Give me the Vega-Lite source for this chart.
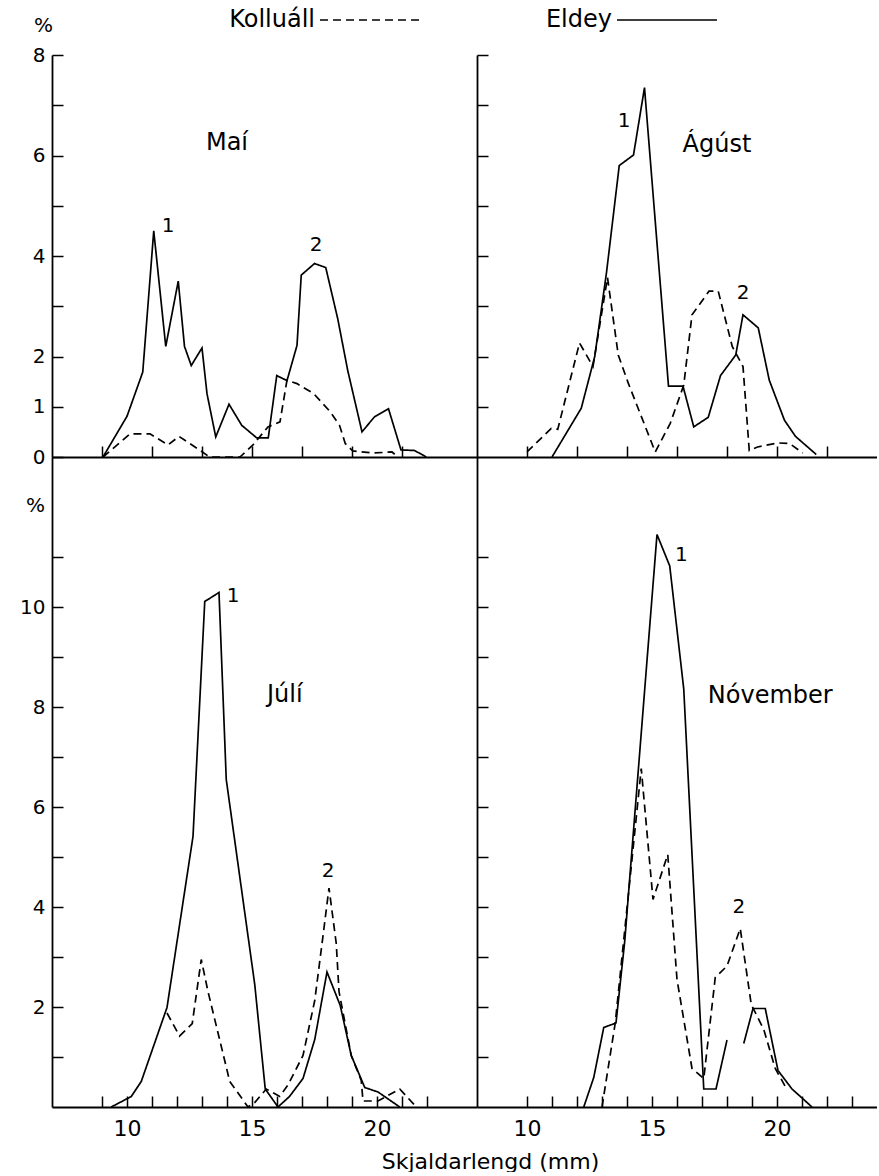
{
  "$schema": "https://vega.github.io/schema/vega-lite/v6.json",
  "background": "white",
  "padding": {"left": 19, "top": 8, "right": 0, "bottom": 0},
  "autosize": {"type": "pad"},
  "config": {
    "font": "DejaVu Sans",
    "view": {"stroke": null},
    "axis": {
      "grid": false,
      "domainColor": "black",
      "domainWidth": 1.8,
      "tickColor": "black",
      "tickWidth": 1.5,
      "tickSize": -11,
      "labelColor": "black",
      "labelFont": "DejaVu Sans",
      "labelFontSize": 20,
      "labelOverlap": false,
      "labelFlush": false,
      "titleColor": "black",
      "titleFont": "DejaVu Sans",
      "titleFontWeight": "normal",
      "titleFontSize": 20
    },
    "legend": {
      "orient": "none",
      "direction": "horizontal",
      "title": null,
      "symbolType": "M-5,0H5",
      "symbolSize": 400,
      "symbolStrokeWidth": 1.7,
      "symbolStrokeColor": "black",
      "labelFont": "DejaVu Sans",
      "labelFontSize": 24,
      "labelColor": "black",
      "labelAlign": "right",
      "labelOffset": -67,
      "labelLimit": 0,
      "columnPadding": 121
    }
  },
  "datasets": {
    "curves": [
      {"panel": "Maí", "site": "Eldey", "seg": "a", "mm": 9.04, "pct": 0},
      {"panel": "Maí", "site": "Eldey", "seg": "a", "mm": 10.0, "pct": 0.81},
      {"panel": "Maí", "site": "Eldey", "seg": "a", "mm": 10.63, "pct": 1.69},
      {"panel": "Maí", "site": "Eldey", "seg": "a", "mm": 11.07, "pct": 4.5},
      {"panel": "Maí", "site": "Eldey", "seg": "a", "mm": 11.55, "pct": 2.2},
      {"panel": "Maí", "site": "Eldey", "seg": "a", "mm": 12.05, "pct": 3.5},
      {"panel": "Maí", "site": "Eldey", "seg": "a", "mm": 12.3, "pct": 2.2},
      {"panel": "Maí", "site": "Eldey", "seg": "a", "mm": 12.57, "pct": 1.82},
      {"panel": "Maí", "site": "Eldey", "seg": "a", "mm": 13.0, "pct": 2.17},
      {"panel": "Maí", "site": "Eldey", "seg": "a", "mm": 13.2, "pct": 1.26},
      {"panel": "Maí", "site": "Eldey", "seg": "a", "mm": 13.55, "pct": 0.4},
      {"panel": "Maí", "site": "Eldey", "seg": "a", "mm": 14.08, "pct": 1.05},
      {"panel": "Maí", "site": "Eldey", "seg": "a", "mm": 14.59, "pct": 0.63},
      {"panel": "Maí", "site": "Eldey", "seg": "a", "mm": 15.19, "pct": 0.38},
      {"panel": "Maí", "site": "Eldey", "seg": "a", "mm": 15.65, "pct": 0.38},
      {"panel": "Maí", "site": "Eldey", "seg": "a", "mm": 15.99, "pct": 1.62},
      {"panel": "Maí", "site": "Eldey", "seg": "a", "mm": 16.4, "pct": 1.52},
      {"panel": "Maí", "site": "Eldey", "seg": "a", "mm": 16.8, "pct": 2.22},
      {"panel": "Maí", "site": "Eldey", "seg": "a", "mm": 16.97, "pct": 3.62},
      {"panel": "Maí", "site": "Eldey", "seg": "a", "mm": 17.5, "pct": 3.85},
      {"panel": "Maí", "site": "Eldey", "seg": "a", "mm": 17.95, "pct": 3.77},
      {"panel": "Maí", "site": "Eldey", "seg": "a", "mm": 18.43, "pct": 2.75},
      {"panel": "Maí", "site": "Eldey", "seg": "a", "mm": 18.83, "pct": 1.72},
      {"panel": "Maí", "site": "Eldey", "seg": "a", "mm": 19.4, "pct": 0.5},
      {"panel": "Maí", "site": "Eldey", "seg": "a", "mm": 19.9, "pct": 0.8},
      {"panel": "Maí", "site": "Eldey", "seg": "a", "mm": 20.46, "pct": 0.96},
      {"panel": "Maí", "site": "Eldey", "seg": "a", "mm": 20.96, "pct": 0.14},
      {"panel": "Maí", "site": "Eldey", "seg": "a", "mm": 21.5, "pct": 0.13},
      {"panel": "Maí", "site": "Eldey", "seg": "a", "mm": 21.97, "pct": 0},

      {"panel": "Maí", "site": "Kolluáll", "seg": "a", "mm": 9.04, "pct": 0},
      {"panel": "Maí", "site": "Kolluáll", "seg": "a", "mm": 10.12, "pct": 0.46},
      {"panel": "Maí", "site": "Kolluáll", "seg": "a", "mm": 10.92, "pct": 0.46},
      {"panel": "Maí", "site": "Kolluáll", "seg": "a", "mm": 11.64, "pct": 0.24},
      {"panel": "Maí", "site": "Kolluáll", "seg": "a", "mm": 12.08, "pct": 0.41},
      {"panel": "Maí", "site": "Kolluáll", "seg": "a", "mm": 12.99, "pct": 0.11},
      {"panel": "Maí", "site": "Kolluáll", "seg": "a", "mm": 13.3, "pct": 0},
      {"panel": "Maí", "site": "Kolluáll", "seg": "a", "mm": 14.52, "pct": 0},
      {"panel": "Maí", "site": "Kolluáll", "seg": "a", "mm": 15.04, "pct": 0.24},
      {"panel": "Maí", "site": "Kolluáll", "seg": "a", "mm": 15.64, "pct": 0.6},
      {"panel": "Maí", "site": "Kolluáll", "seg": "a", "mm": 16.12, "pct": 0.7},
      {"panel": "Maí", "site": "Kolluáll", "seg": "a", "mm": 16.4, "pct": 1.53},
      {"panel": "Maí", "site": "Kolluáll", "seg": "a", "mm": 16.8, "pct": 1.46},
      {"panel": "Maí", "site": "Kolluáll", "seg": "a", "mm": 17.47, "pct": 1.26},
      {"panel": "Maí", "site": "Kolluáll", "seg": "a", "mm": 18.13, "pct": 0.9},
      {"panel": "Maí", "site": "Kolluáll", "seg": "a", "mm": 18.5, "pct": 0.63},
      {"panel": "Maí", "site": "Kolluáll", "seg": "a", "mm": 18.73, "pct": 0.27},
      {"panel": "Maí", "site": "Kolluáll", "seg": "a", "mm": 19.03, "pct": 0.12},
      {"panel": "Maí", "site": "Kolluáll", "seg": "a", "mm": 19.84, "pct": 0.08},
      {"panel": "Maí", "site": "Kolluáll", "seg": "a", "mm": 20.6, "pct": 0.1},
      {"panel": "Maí", "site": "Kolluáll", "seg": "a", "mm": 20.84, "pct": 0},

      {"panel": "Ágúst", "site": "Eldey", "seg": "a", "mm": 11.0, "pct": 0},
      {"panel": "Ágúst", "site": "Eldey", "seg": "a", "mm": 12.17, "pct": 0.97},
      {"panel": "Ágúst", "site": "Eldey", "seg": "a", "mm": 12.71, "pct": 2.0},
      {"panel": "Ágúst", "site": "Eldey", "seg": "a", "mm": 13.18, "pct": 3.67},
      {"panel": "Ágúst", "site": "Eldey", "seg": "a", "mm": 13.69, "pct": 5.8},
      {"panel": "Ágúst", "site": "Eldey", "seg": "a", "mm": 14.26, "pct": 6.01},
      {"panel": "Ágúst", "site": "Eldey", "seg": "a", "mm": 14.7, "pct": 7.35},
      {"panel": "Ágúst", "site": "Eldey", "seg": "a", "mm": 15.66, "pct": 1.41},
      {"panel": "Ágúst", "site": "Eldey", "seg": "a", "mm": 16.24, "pct": 1.41},
      {"panel": "Ágúst", "site": "Eldey", "seg": "a", "mm": 16.67, "pct": 0.6},
      {"panel": "Ágúst", "site": "Eldey", "seg": "a", "mm": 17.25, "pct": 0.79},
      {"panel": "Ágúst", "site": "Eldey", "seg": "a", "mm": 17.74, "pct": 1.62},
      {"panel": "Ágúst", "site": "Eldey", "seg": "a", "mm": 18.35, "pct": 2.03},
      {"panel": "Ágúst", "site": "Eldey", "seg": "a", "mm": 18.64, "pct": 2.83},
      {"panel": "Ágúst", "site": "Eldey", "seg": "a", "mm": 19.25, "pct": 2.57},
      {"panel": "Ágúst", "site": "Eldey", "seg": "a", "mm": 19.69, "pct": 1.53},
      {"panel": "Ágúst", "site": "Eldey", "seg": "a", "mm": 20.3, "pct": 0.73},
      {"panel": "Ágúst", "site": "Eldey", "seg": "a", "mm": 20.74, "pct": 0.41},
      {"panel": "Ágúst", "site": "Eldey", "seg": "a", "mm": 21.57, "pct": 0.05},

      {"panel": "Ágúst", "site": "Kolluáll", "seg": "a", "mm": 10.0, "pct": 0.1},
      {"panel": "Ágúst", "site": "Kolluáll", "seg": "a", "mm": 10.97, "pct": 0.57},
      {"panel": "Ágúst", "site": "Kolluáll", "seg": "a", "mm": 11.23, "pct": 0.55},
      {"panel": "Ágúst", "site": "Kolluáll", "seg": "a", "mm": 12.1, "pct": 2.27},
      {"panel": "Ágúst", "site": "Kolluáll", "seg": "a", "mm": 12.64, "pct": 1.8},
      {"panel": "Ágúst", "site": "Kolluáll", "seg": "a", "mm": 13.22, "pct": 3.57},
      {"panel": "Ágúst", "site": "Kolluáll", "seg": "a", "mm": 13.65, "pct": 2.03},
      {"panel": "Ágúst", "site": "Kolluáll", "seg": "a", "mm": 14.05, "pct": 1.47},
      {"panel": "Ágúst", "site": "Kolluáll", "seg": "a", "mm": 15.13, "pct": 0.1},
      {"panel": "Ágúst", "site": "Kolluáll", "seg": "a", "mm": 15.73, "pct": 0.67},
      {"panel": "Ágúst", "site": "Kolluáll", "seg": "a", "mm": 16.27, "pct": 1.43},
      {"panel": "Ágúst", "site": "Kolluáll", "seg": "a", "mm": 16.6, "pct": 2.83},
      {"panel": "Ágúst", "site": "Kolluáll", "seg": "a", "mm": 17.28, "pct": 3.3},
      {"panel": "Ágúst", "site": "Kolluáll", "seg": "a", "mm": 17.65, "pct": 3.3},
      {"panel": "Ágúst", "site": "Kolluáll", "seg": "a", "mm": 18.21, "pct": 2.2},
      {"panel": "Ágúst", "site": "Kolluáll", "seg": "a", "mm": 18.64, "pct": 1.8},
      {"panel": "Ágúst", "site": "Kolluáll", "seg": "a", "mm": 18.89, "pct": 0.13},
      {"panel": "Ágúst", "site": "Kolluáll", "seg": "a", "mm": 19.22, "pct": 0.2},
      {"panel": "Ágúst", "site": "Kolluáll", "seg": "a", "mm": 20.03, "pct": 0.28},
      {"panel": "Ágúst", "site": "Kolluáll", "seg": "a", "mm": 20.5, "pct": 0.27},
      {"panel": "Ágúst", "site": "Kolluáll", "seg": "a", "mm": 21.03, "pct": 0.08},

      {"panel": "Júlí", "site": "Eldey", "seg": "a", "mm": 9.37, "pct": 0},
      {"panel": "Júlí", "site": "Eldey", "seg": "a", "mm": 10.17, "pct": 0.21},
      {"panel": "Júlí", "site": "Eldey", "seg": "a", "mm": 10.57, "pct": 0.51},
      {"panel": "Júlí", "site": "Eldey", "seg": "a", "mm": 11.6, "pct": 1.99},
      {"panel": "Júlí", "site": "Eldey", "seg": "a", "mm": 12.64, "pct": 5.41},
      {"panel": "Júlí", "site": "Eldey", "seg": "a", "mm": 13.11, "pct": 10.11},
      {"panel": "Júlí", "site": "Eldey", "seg": "a", "mm": 13.68, "pct": 10.29},
      {"panel": "Júlí", "site": "Eldey", "seg": "a", "mm": 13.97, "pct": 6.55},
      {"panel": "Júlí", "site": "Eldey", "seg": "a", "mm": 15.11, "pct": 2.45},
      {"panel": "Júlí", "site": "Eldey", "seg": "a", "mm": 15.53, "pct": 0.36},
      {"panel": "Júlí", "site": "Eldey", "seg": "a", "mm": 16.04, "pct": 0},
      {"panel": "Júlí", "site": "Eldey", "seg": "a", "mm": 16.5, "pct": 0.21},
      {"panel": "Júlí", "site": "Eldey", "seg": "a", "mm": 17.04, "pct": 0.57},
      {"panel": "Júlí", "site": "Eldey", "seg": "a", "mm": 17.51, "pct": 1.35},
      {"panel": "Júlí", "site": "Eldey", "seg": "a", "mm": 18.0, "pct": 2.7},
      {"panel": "Júlí", "site": "Eldey", "seg": "a", "mm": 18.53, "pct": 2.03},
      {"panel": "Júlí", "site": "Eldey", "seg": "a", "mm": 18.97, "pct": 1.03},
      {"panel": "Júlí", "site": "Eldey", "seg": "a", "mm": 19.51, "pct": 0.39},
      {"panel": "Júlí", "site": "Eldey", "seg": "a", "mm": 20.04, "pct": 0.3},
      {"panel": "Júlí", "site": "Eldey", "seg": "a", "mm": 20.91, "pct": 0},

      {"panel": "Júlí", "site": "Kolluáll", "seg": "a", "mm": 11.6, "pct": 1.88},
      {"panel": "Júlí", "site": "Kolluáll", "seg": "a", "mm": 12.1, "pct": 1.42},
      {"panel": "Júlí", "site": "Kolluáll", "seg": "a", "mm": 12.61, "pct": 1.67},
      {"panel": "Júlí", "site": "Kolluáll", "seg": "a", "mm": 12.97, "pct": 2.95},
      {"panel": "Júlí", "site": "Kolluáll", "seg": "a", "mm": 13.24, "pct": 2.31},
      {"panel": "Júlí", "site": "Kolluáll", "seg": "a", "mm": 14.11, "pct": 0.51},
      {"panel": "Júlí", "site": "Kolluáll", "seg": "a", "mm": 14.84, "pct": 0},
      {"panel": "Júlí", "site": "Kolluáll", "seg": "a", "mm": 15.11, "pct": 0.09},
      {"panel": "Júlí", "site": "Kolluáll", "seg": "a", "mm": 15.57, "pct": 0.36},
      {"panel": "Júlí", "site": "Kolluáll", "seg": "a", "mm": 16.11, "pct": 0.21},
      {"panel": "Júlí", "site": "Kolluáll", "seg": "a", "mm": 16.44, "pct": 0.44},
      {"panel": "Júlí", "site": "Kolluáll", "seg": "a", "mm": 17.04, "pct": 1.03},
      {"panel": "Júlí", "site": "Kolluáll", "seg": "a", "mm": 17.51, "pct": 2.13},
      {"panel": "Júlí", "site": "Kolluáll", "seg": "a", "mm": 17.87, "pct": 3.54},
      {"panel": "Júlí", "site": "Kolluáll", "seg": "a", "mm": 18.08, "pct": 4.38},
      {"panel": "Júlí", "site": "Kolluáll", "seg": "a", "mm": 18.37, "pct": 3.27},
      {"panel": "Júlí", "site": "Kolluáll", "seg": "a", "mm": 18.48, "pct": 2.31},
      {"panel": "Júlí", "site": "Kolluáll", "seg": "a", "mm": 18.97, "pct": 1.03},
      {"panel": "Júlí", "site": "Kolluáll", "seg": "a", "mm": 19.37, "pct": 0.53},
      {"panel": "Júlí", "site": "Kolluáll", "seg": "a", "mm": 19.44, "pct": 0.12},
      {"panel": "Júlí", "site": "Kolluáll", "seg": "a", "mm": 20.04, "pct": 0.12},
      {"panel": "Júlí", "site": "Kolluáll", "seg": "a", "mm": 20.91, "pct": 0.36},
      {"panel": "Júlí", "site": "Kolluáll", "seg": "a", "mm": 21.57, "pct": 0},

      {"panel": "Nóvember", "site": "Eldey", "seg": "a", "mm": 12.27, "pct": 0},
      {"panel": "Nóvember", "site": "Eldey", "seg": "a", "mm": 12.67, "pct": 0.59},
      {"panel": "Nóvember", "site": "Eldey", "seg": "a", "mm": 13.07, "pct": 1.59},
      {"panel": "Nóvember", "site": "Eldey", "seg": "a", "mm": 13.56, "pct": 1.68},
      {"panel": "Nóvember", "site": "Eldey", "seg": "a", "mm": 13.91, "pct": 3.32},
      {"panel": "Nóvember", "site": "Eldey", "seg": "a", "mm": 15.2, "pct": 11.45},
      {"panel": "Nóvember", "site": "Eldey", "seg": "a", "mm": 15.71, "pct": 10.82},
      {"panel": "Nóvember", "site": "Eldey", "seg": "a", "mm": 16.27, "pct": 8.36},
      {"panel": "Nóvember", "site": "Eldey", "seg": "a", "mm": 17.07, "pct": 0.36},
      {"panel": "Nóvember", "site": "Eldey", "seg": "a", "mm": 17.56, "pct": 0.36},
      {"panel": "Nóvember", "site": "Eldey", "seg": "a", "mm": 18.0, "pct": 1.34},
      {"panel": "Nóvember", "site": "Eldey", "seg": "b", "mm": 18.67, "pct": 1.27},
      {"panel": "Nóvember", "site": "Eldey", "seg": "b", "mm": 19.04, "pct": 1.97},
      {"panel": "Nóvember", "site": "Eldey", "seg": "b", "mm": 19.53, "pct": 1.97},
      {"panel": "Nóvember", "site": "Eldey", "seg": "b", "mm": 20.04, "pct": 0.73},
      {"panel": "Nóvember", "site": "Eldey", "seg": "b", "mm": 20.6, "pct": 0.36},
      {"panel": "Nóvember", "site": "Eldey", "seg": "b", "mm": 21.4, "pct": 0},

      {"panel": "Nóvember", "site": "Kolluáll", "seg": "a", "mm": 13.0, "pct": 0},
      {"panel": "Nóvember", "site": "Kolluáll", "seg": "a", "mm": 13.53, "pct": 1.68},
      {"panel": "Nóvember", "site": "Kolluáll", "seg": "a", "mm": 14.57, "pct": 6.77},
      {"panel": "Nóvember", "site": "Kolluáll", "seg": "a", "mm": 15.04, "pct": 4.15},
      {"panel": "Nóvember", "site": "Kolluáll", "seg": "a", "mm": 15.63, "pct": 5.05},
      {"panel": "Nóvember", "site": "Kolluáll", "seg": "a", "mm": 16.0, "pct": 2.55},
      {"panel": "Nóvember", "site": "Kolluáll", "seg": "a", "mm": 16.6, "pct": 0.77},
      {"panel": "Nóvember", "site": "Kolluáll", "seg": "a", "mm": 17.07, "pct": 0.57},
      {"panel": "Nóvember", "site": "Kolluáll", "seg": "a", "mm": 17.53, "pct": 2.59},
      {"panel": "Nóvember", "site": "Kolluáll", "seg": "a", "mm": 18.0, "pct": 2.82},
      {"panel": "Nóvember", "site": "Kolluáll", "seg": "a", "mm": 18.53, "pct": 3.57},
      {"panel": "Nóvember", "site": "Kolluáll", "seg": "a", "mm": 18.97, "pct": 2.05},
      {"panel": "Nóvember", "site": "Kolluáll", "seg": "a", "mm": 19.47, "pct": 1.55},
      {"panel": "Nóvember", "site": "Kolluáll", "seg": "a", "mm": 19.93, "pct": 0.77},
      {"panel": "Nóvember", "site": "Kolluáll", "seg": "a", "mm": 20.33, "pct": 0.41}
    ],
    "notes": [
      {"panel": "Maí", "kind": "title", "mm": 14.0, "pct": 6.25, "label": "Maí"},
      {"panel": "Maí", "kind": "peak", "mm": 11.64, "pct": 4.6, "label": "1"},
      {"panel": "Maí", "kind": "peak", "mm": 17.56, "pct": 4.22, "label": "2"},
      {"panel": "Ágúst", "kind": "title", "mm": 17.6, "pct": 6.2, "label": "Ágúst"},
      {"panel": "Ágúst", "kind": "peak", "mm": 13.88, "pct": 6.68, "label": "1"},
      {"panel": "Ágúst", "kind": "peak", "mm": 18.64, "pct": 3.27, "label": "2"},
      {"panel": "Júlí", "kind": "title", "mm": 16.31, "pct": 8.24, "label": "Júlí"},
      {"panel": "Júlí", "kind": "peak", "mm": 14.24, "pct": 10.22, "label": "1"},
      {"panel": "Júlí", "kind": "peak", "mm": 18.04, "pct": 4.73, "label": "2"},
      {"panel": "Nóvember", "kind": "title", "mm": 19.73, "pct": 8.23, "label": "Nóvember"},
      {"panel": "Nóvember", "kind": "peak", "mm": 16.17, "pct": 11.05, "label": "1"},
      {"panel": "Nóvember", "kind": "peak", "mm": 18.47, "pct": 4.0, "label": "2"}
    ]
  },
  "columns": 2,
  "spacing": 0,
  "bounds": "flush",
  "concat": [
    {
      "width": 425,
      "height": 402,
      "layer": [
        {
          "data": {"name": "curves"},
          "transform": [{"filter": "datum.panel === 'Maí'"}],
          "mark": {"type": "line", "color": "black", "strokeWidth": 1.7},
          "encoding": {
            "x": {"field": "mm", "type": "quantitative", "scale": {"domain": [7, 24], "nice": false, "zero": false},
                  "axis": {"title": null, "values": [9, 10, 11, 12, 13, 14, 15, 16, 17, 18, 19, 20, 21, 22], "labels": false}},
            "y": {"field": "pct", "type": "quantitative", "scale": {"domain": [0, 8], "nice": false},
                  "axis": {"values": [0, 1, 2, 3, 4, 5, 6, 7, 8], "labelPadding": 18, "labelOverlap": false,
                           "labelExpr": "indexof([3, 5, 7], datum.value) >= 0 ? '' : datum.label",
                           "title": "%", "titleAngle": 0, "titleX": -9, "titleY": -30,
                           "titleAlign": "center", "titleBaseline": "middle"}},
            "strokeDash": {"field": "site", "type": "nominal",
                           "scale": {"domain": ["Kolluáll", "Eldey"], "range": [[8, 5], [1, 0]]},
                           "legend": {"legendX": 306, "legendY": -47}},
            "detail": {"field": "seg"}
          }
        },
        {
          "data": {"name": "notes"},
          "transform": [{"filter": "datum.panel === 'Maí' && datum.kind === 'title'"}],
          "mark": {"type": "text", "fontSize": 24, "color": "black", "align": "center", "baseline": "middle"},
          "encoding": {"x": {"field": "mm", "type": "quantitative"}, "y": {"field": "pct", "type": "quantitative"}, "text": {"field": "label"}}
        },
        {
          "data": {"name": "notes"},
          "transform": [{"filter": "datum.panel === 'Maí' && datum.kind === 'peak'"}],
          "mark": {"type": "text", "fontSize": 20, "color": "black", "align": "center", "baseline": "middle"},
          "encoding": {"x": {"field": "mm", "type": "quantitative"}, "y": {"field": "pct", "type": "quantitative"}, "text": {"field": "label"}}
        }
      ]
    },
    {
      "width": 400,
      "height": 402,
      "layer": [
        {
          "data": {"name": "curves"},
          "transform": [{"filter": "datum.panel === 'Ágúst'"}],
          "mark": {"type": "line", "color": "black", "strokeWidth": 1.7},
          "encoding": {
            "x": {"field": "mm", "type": "quantitative", "scale": {"domain": [8, 24], "nice": false, "zero": false},
                  "axis": {"title": null, "values": [10, 11, 12, 13, 14, 15, 16, 17, 18, 19, 20, 21, 22], "labels": false}},
            "y": {"field": "pct", "type": "quantitative", "scale": {"domain": [0, 8], "nice": false},
                  "axis": {"title": null, "values": [1, 2, 3, 4, 5, 6, 7, 8], "labels": false}},
            "strokeDash": {"field": "site", "type": "nominal",
                           "scale": {"domain": ["Kolluáll", "Eldey"], "range": [[8, 5], [1, 0]]},
                           "legend": {"legendX": 306, "legendY": -47}},
            "detail": {"field": "seg"}
          }
        },
        {
          "data": {"name": "notes"},
          "transform": [{"filter": "datum.panel === 'Ágúst' && datum.kind === 'title'"}],
          "mark": {"type": "text", "fontSize": 24, "color": "black", "align": "center", "baseline": "middle"},
          "encoding": {"x": {"field": "mm", "type": "quantitative"}, "y": {"field": "pct", "type": "quantitative"}, "text": {"field": "label"}}
        },
        {
          "data": {"name": "notes"},
          "transform": [{"filter": "datum.panel === 'Ágúst' && datum.kind === 'peak'"}],
          "mark": {"type": "text", "fontSize": 20, "color": "black", "align": "center", "baseline": "middle"},
          "encoding": {"x": {"field": "mm", "type": "quantitative"}, "y": {"field": "pct", "type": "quantitative"}, "text": {"field": "label"}}
        }
      ]
    },
    {
      "width": 425,
      "height": 650,
      "resolve": {"axis": {"x": "independent"}},
      "layer": [
        {
          "data": {"name": "curves"},
          "transform": [{"filter": "datum.panel === 'Júlí'"}],
          "mark": {"type": "line", "color": "black", "strokeWidth": 1.7},
          "encoding": {
            "x": {"field": "mm", "type": "quantitative", "scale": {"domain": [7, 24], "nice": false, "zero": false},
                  "axis": {"title": null, "values": [9, 10, 11, 12, 13, 14, 15, 16, 17, 18, 19, 20, 21, 22], "labels": false}},
            "y": {"field": "pct", "type": "quantitative", "scale": {"domain": [0, 13], "nice": false},
                  "axis": {"values": [1, 2, 3, 4, 5, 6, 7, 8, 9, 10, 11], "labelPadding": 18, "labelOverlap": false,
                           "labelExpr": "datum.value % 2 === 0 ? datum.label : ''",
                           "title": "%", "titleAngle": 0, "titleX": -17, "titleY": 48,
                           "titleAlign": "center", "titleBaseline": "middle"}},
            "strokeDash": {"field": "site", "type": "nominal",
                           "scale": {"domain": ["Kolluáll", "Eldey"], "range": [[8, 5], [1, 0]]},
                           "legend": {"legendX": 306, "legendY": -47}},
            "detail": {"field": "seg"}
          }
        },
        {
          "data": {"name": "notes"},
          "transform": [{"filter": "datum.panel === 'Júlí' && datum.kind === 'title'"}],
          "mark": {"type": "text", "fontSize": 24, "color": "black", "align": "center", "baseline": "middle"},
          "encoding": {"x": {"field": "mm", "type": "quantitative",
                             "axis": {"orient": "bottom", "values": [10, 15, 20], "ticks": false, "domain": false, "title": null,
                                      "labelFontSize": 22, "labelPadding": 11, "labelOverlap": false}},
                       "y": {"field": "pct", "type": "quantitative"}, "text": {"field": "label"}}
        },
        {
          "data": {"name": "notes"},
          "transform": [{"filter": "datum.panel === 'Júlí' && datum.kind === 'peak'"}],
          "mark": {"type": "text", "fontSize": 20, "color": "black", "align": "center", "baseline": "middle"},
          "encoding": {"x": {"field": "mm", "type": "quantitative", "axis": null}, "y": {"field": "pct", "type": "quantitative"}, "text": {"field": "label"}}
        }
      ]
    },
    {
      "width": 400,
      "height": 650,
      "resolve": {"axis": {"x": "independent"}},
      "layer": [
        {
          "data": {"name": "curves"},
          "transform": [{"filter": "datum.panel === 'Nóvember'"}],
          "mark": {"type": "line", "color": "black", "strokeWidth": 1.7},
          "encoding": {
            "x": {"field": "mm", "type": "quantitative", "scale": {"domain": [8, 24], "nice": false, "zero": false},
                  "axis": {"values": [10, 11, 12, 13, 14, 15, 16, 17, 18, 19, 20, 21, 22, 23], "labels": false,
                           "title": "Skjaldarlengd (mm)", "titleFontSize": 22, "titleX": 13, "titleY": 54,
                           "titleAlign": "center", "titleBaseline": "middle"}},
            "y": {"field": "pct", "type": "quantitative", "scale": {"domain": [0, 13], "nice": false},
                  "axis": {"title": null, "values": [1, 2, 3, 4, 5, 6, 7, 8, 9, 10, 11], "labels": false}},
            "strokeDash": {"field": "site", "type": "nominal",
                           "scale": {"domain": ["Kolluáll", "Eldey"], "range": [[8, 5], [1, 0]]},
                           "legend": {"legendX": 306, "legendY": -47}},
            "detail": {"field": "seg"}
          }
        },
        {
          "data": {"name": "notes"},
          "transform": [{"filter": "datum.panel === 'Nóvember' && datum.kind === 'title'"}],
          "mark": {"type": "text", "fontSize": 24, "color": "black", "align": "center", "baseline": "middle"},
          "encoding": {"x": {"field": "mm", "type": "quantitative",
                             "axis": {"orient": "bottom", "values": [10, 15, 20], "ticks": false, "domain": false, "title": null,
                                      "labelFontSize": 22, "labelPadding": 11, "labelOverlap": false}},
                       "y": {"field": "pct", "type": "quantitative"}, "text": {"field": "label"}}
        },
        {
          "data": {"name": "notes"},
          "transform": [{"filter": "datum.panel === 'Nóvember' && datum.kind === 'peak'"}],
          "mark": {"type": "text", "fontSize": 20, "color": "black", "align": "center", "baseline": "middle"},
          "encoding": {"x": {"field": "mm", "type": "quantitative", "axis": null}, "y": {"field": "pct", "type": "quantitative"}, "text": {"field": "label"}}
        }
      ]
    }
  ]
}
